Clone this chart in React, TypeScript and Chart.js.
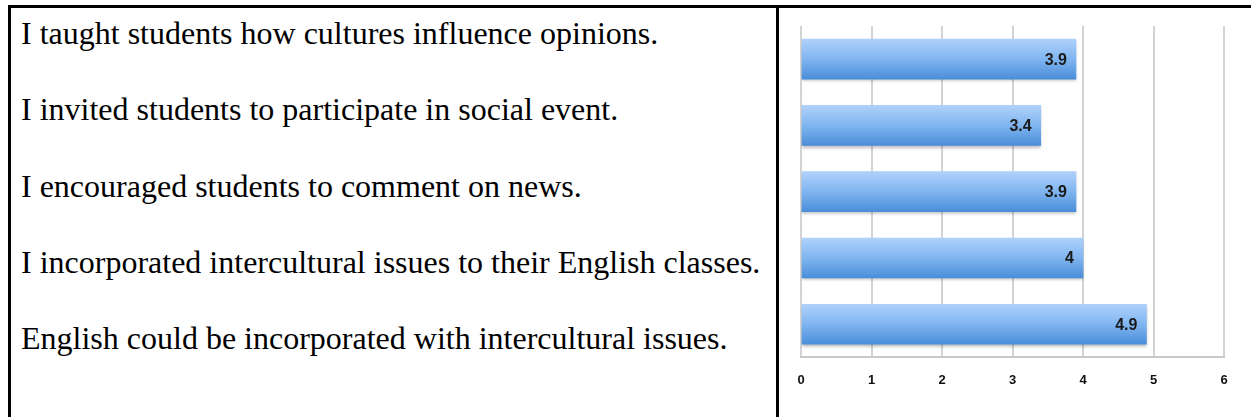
import React, { useEffect, useRef } from "react";
import { Chart, registerables } from "chart.js";

Chart.register(...registerables);

// ---- data ----
const statements = [
  "I taught students how cultures influence opinions.",
  "I invited students to participate in social event.",
  "I encouraged students to comment on news.",
  "I incorporated intercultural issues to their English classes.",
  "English could be incorporated with intercultural issues.",
];
const categories = ["S1", "S2", "S3", "S4", "S5"];
const meanScores = [3.9, 3.4, 3.9, 4, 4.9];
const xTicks = [0, 1, 2, 3, 4, 5, 6];

const textBaselines = [43, 119, 196, 272, 348];

const sansFont = '"Liberation Sans", Arial, sans-serif';

export default function App() {
  const canvasRef = useRef<HTMLCanvasElement | null>(null);

  useEffect(() => {
    const canvas = canvasRef.current;
    if (!canvas) return;

    const labelPlugin = {
      id: "valueLabels",
      beforeDatasetsDraw(chart: any) {
        const ctx = chart.ctx;
        ctx.save();
        ctx.shadowColor = "rgba(0,0,0,0.28)";
        ctx.shadowBlur = 3;
        ctx.shadowOffsetY = 2;
        ctx.shadowOffsetX = 0;
      },
      afterDatasetsDraw(chart: any) {
        const ctx = chart.ctx;
        ctx.restore();
        const meta = chart.getDatasetMeta(0);
        ctx.save();
        ctx.font = `bold 16px ${sansFont}`;
        ctx.fillStyle = "#1a1a1a";
        ctx.textAlign = "right";
        ctx.textBaseline = "middle";
        meta.data.forEach((el: any, i: number) => {
          ctx.fillText(String(meanScores[i]), el.x - 9, el.y + 1);
        });
        ctx.restore();
      },
    };

    const chart = new Chart(canvas, {
      type: "bar",
      data: {
        labels: categories,
        datasets: [
          {
            data: meanScores,
            barThickness: 40,
            borderWidth: 0,
            backgroundColor: (c: any) => {
              const ch = c.chart;
              const y = ch.scales && ch.scales.y;
              if (!y || c.dataIndex === undefined) return "#6fa9ec";
              const yc = y.getPixelForValue(c.dataIndex);
              if (!isFinite(yc)) return "#6fa9ec";
              const g = ch.ctx.createLinearGradient(0, yc - 20, 0, yc + 20);
              g.addColorStop(0, "#afd1fb");
              g.addColorStop(0.5, "#80b5f0");
              g.addColorStop(1, "#4a8ed9");
              return g;
            },
          },
        ],
      },
      options: {
        indexAxis: "y",
        responsive: false,
        animation: false,
        devicePixelRatio: 1,
        layout: { padding: { left: 21, right: 27, top: 18, bottom: 14 } },
        plugins: {
          legend: { display: false },
          tooltip: { enabled: false },
        },
        scales: {
          x: {
            min: xTicks[0],
            max: xTicks[xTicks.length - 1],
            ticks: {
              stepSize: 1,
              padding: 15,
              color: "#111",
              font: { family: sansFont, size: 13, weight: "bold" },
              callback: (v: any) => String(v),
            },
            grid: { color: "#d3d3d3", lineWidth: 2, drawTicks: false },
            border: { display: true, color: "#c8c8c8", width: 2 },
          },
          y: { display: false },
        },
      },
      plugins: [labelPlugin],
    } as any);

    return () => chart.destroy();
  }, []);

  return (
    <div
      style={{
        position: "fixed",
        left: 0,
        top: 0,
        width: 1251,
        height: 417,
        overflow: "hidden",
        background: "#fff",
      }}
    >
      <div style={{ position: "absolute", left: 8, top: 5, width: 1243, height: 3, background: "#000" }} />
      <div style={{ position: "absolute", left: 8, top: 5, width: 3, height: 412, background: "#000" }} />
      <div style={{ position: "absolute", left: 776, top: 5, width: 3, height: 412, background: "#000" }} />
      {statements.map((s, i) => (
        <div
          key={i}
          style={{
            position: "absolute",
            left: 21,
            top: textBaselines[i] - 28.5,
            fontFamily: '"Liberation Serif", "Times New Roman", serif',
            fontSize: 32,
            lineHeight: "normal",
            whiteSpace: "nowrap",
            color: "#000",
          }}
        >
          {s}
        </div>
      ))}
      <canvas
        ref={canvasRef}
        width={471}
        height={409}
        style={{ position: "absolute", left: 780, top: 8, width: 471, height: 409 }}
      />
    </div>
  );
}
